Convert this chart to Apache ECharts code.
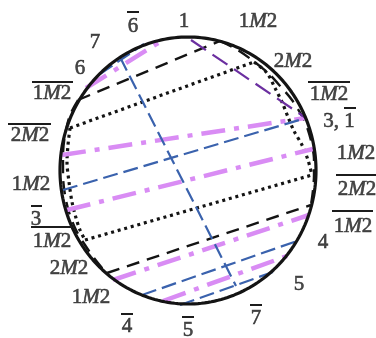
<!DOCTYPE html>
<html><head><meta charset="utf-8">
<script src="https://cdn.jsdelivr.net/npm/echarts@6/dist/echarts.min.js"></script>
<style>html,body{margin:0;padding:0;background:#fff}#c{width:376px;height:338px}</style>
</head><body><div id="c"></div>
<script>
// Diagram data (units of the drawing plane)
const circleCenter = [188, 170.5];
const circleRadii = [128, 133.5];

const pinkChords = [
  [[86, 88], [163, 40]],
  [[62, 155], [305, 118]],
  [[67, 210], [313, 149]],
  [[113, 280], [309, 215]],
  [[163, 301], [287, 256]]
];
const blueChords = [
  [[120, 57], [236, 286]],
  [[100, 74], [144, 44]],
  [[63, 190], [306, 118]],
  [[142, 295], [297, 241]],
  [[180, 305], [273, 272]]
];
const purpleChords = [
  [[191, 40], [306, 118]]
];
const dashedChords = [
  [[78, 100], [220, 41]],
  [[107, 273], [311, 205]]
];
const dashedArcRight = [[220, 41], [236, 49], [252, 60], [268, 73], [281, 87], [292, 100], [303, 118], [308, 130], [312, 145], [314, 160], [314, 175], [313, 190], [311, 205]];
const dashedArcLeft = [[78, 100], [70, 115], [65, 135], [63, 155], [63, 175], [65, 195], [69, 212], [76, 230], [85, 245], [94, 258], [103, 269], [107, 273]];
const dottedChords = [
  [[70, 128], [254, 62]],
  [[85, 240], [312, 175]]
];
const dottedArcRight = [[254, 62], [267, 73], [275, 88], [282, 102], [288, 117], [294, 131], [302, 145], [308, 160], [312, 175]];
const dottedArcLeft = [[70, 128], [68, 145], [67, 162], [69, 182], [72, 202], [76, 218], [80, 230], [85, 240]];

const labelText = ['6', '1', '1M2', '7', '2M2', '6', '1M2', '1M2', '2M2', '3, 1', '1M2', '1M2', '2M2', '3', '1M2', '1M2', '4', '2M2', '5', '1M2', '4', '5', '7'];
const labelAt = [[133, 26], [184, 21], [258, 21], [95, 42], [293, 61], [80, 68], [52, 93], [329, 94], [30, 135], [339, 121], [356, 153], [31, 184], [357, 189], [36, 219], [52, 241], [353, 226], [323, 242], [69, 268], [299, 284], [91, 297], [127, 326], [188, 330], [256, 318]];
const overlineSpans = [[127, 139, 12], [32, 73, 82], [308, 350, 82], [8, 51, 124], [344, 356, 108], [336, 376, 175], [31, 42, 206], [31, 72, 227], [332, 373, 211], [121, 133, 314], [182, 194, 317], [250, 262, 305]];

const chart = echarts.init(document.getElementById('c'), null, {renderer: 'canvas'});
const series = [];

function seg(points, color, width, dash, z, smooth) {
  series.push({
    type: 'line', data: points, showSymbol: false, silent: true, animation: false,
    smooth: smooth || false, z: z || 2,
    lineStyle: {color: color, width: width, type: dash, cap: 'butt', join: 'round'}
  });
}

const PINK = '#d98cf4', BLUE = '#3a62ad', PURPLE = '#6b2fa0', BLACK = '#141414', INK = '#1c1c1c';

dottedChords.forEach(p => seg(p, BLACK, 3.2, [3, 3.8], 3));
seg(dottedArcRight, BLACK, 3.2, [3, 3.8], 3, 0.3);
seg(dottedArcLeft, BLACK, 3.2, [3, 3.8], 3, 0.3);
dashedChords.forEach(p => seg(p, BLACK, 2.4, [13, 8], 3));
seg(dashedArcRight, BLACK, 2.4, [13, 8], 3, 0.3);
seg(dashedArcLeft, BLACK, 2.4, [13, 8], 3, 0.3);
pinkChords.forEach(p => seg(p, PINK, 4.5, [24, 9, 5, 9], 4));
blueChords.forEach(p => seg(p, BLUE, 2.2, [15, 6], 5));
purpleChords.forEach(p => seg(p, PURPLE, 2.2, [18, 8], 5));

// outer circle
const circ = [];
for (let i = 0; i <= 240; i++) {
  const t = i / 240 * Math.PI * 2;
  circ.push([circleCenter[0] + circleRadii[0] * Math.cos(t), circleCenter[1] + circleRadii[1] * Math.sin(t)]);
}
seg(circ, BLACK, 3.2, 'solid', 6);

overlineSpans.forEach(s => seg([[s[0], s[2]], [s[1], s[2]]], INK, 2, 'solid', 7));

const txt = {fontFamily: 'Liberation Serif', fontSize: 21, color: INK, textBorderColor: INK, textBorderWidth: 0.6};
const rich = {
  d: Object.assign({}, txt),
  m: Object.assign({fontStyle: 'italic'}, txt)
};
series.push({
  type: 'scatter', symbolSize: 0, silent: true, animation: false, z: 8,
  data: labelAt.map((p, i) => ({value: p, name: labelText[i]})),
  label: {
    show: true, position: 'inside', align: 'center', verticalAlign: 'middle',
    formatter: pr => pr.name.split('').map(ch => ch === 'M' ? '{m|M}' : '{d|' + ch + '}').join(''),
    rich: rich
  }
});

chart.setOption({
  animation: false,
  grid: {left: 0, right: 0, top: 0, bottom: 0},
  xAxis: {type: 'value', min: 0, max: 376, show: false},
  yAxis: {type: 'value', min: 0, max: 338, inverse: true, show: false},
  series: series
});
</script></body></html>
